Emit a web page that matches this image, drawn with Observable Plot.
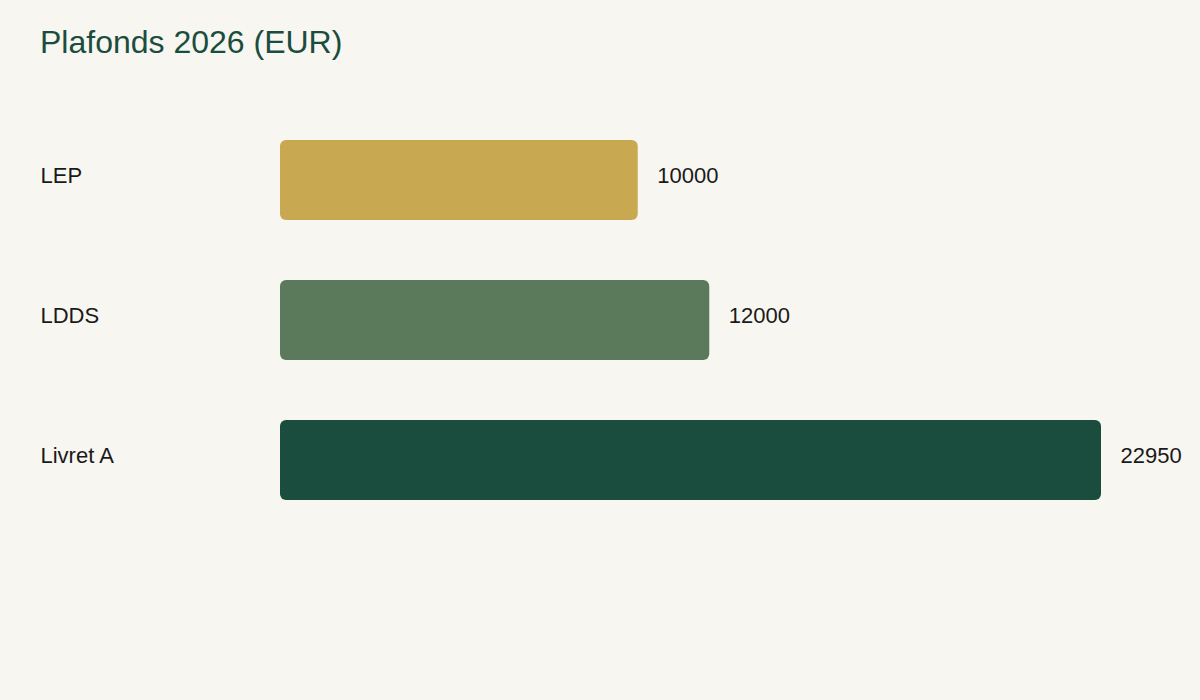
<!DOCTYPE html>
<html>
<head>
<meta charset="utf-8">
<script src="https://cdn.jsdelivr.net/npm/d3@7"></script>
<script src="https://cdn.jsdelivr.net/npm/@observablehq/plot@0.6"></script>
<style>
  html, body { margin: 0; padding: 0; background: #f7f6f1; width: 1200px; height: 700px; overflow: hidden; }
  #wrap { position: relative; width: 1200px; height: 700px; font-family: "Liberation Sans", Arial, sans-serif; }
  #title { position: absolute; left: 40px; top: 24px; font-size: 32px; line-height: 37px; color: #1b4d3e; font-weight: 400; }
  #chart { position: absolute; left: 0; top: 0; }
</style>
</head>
<body>
<div id="wrap">
  <div id="chart"></div>
  <div id="title">Plafonds 2026 (EUR)</div>
</div>
<script>
const categories = ["LEP", "LDDS", "Livret A"];
const values = [10000, 12000, 22950];
const colors = ["#c8a952", "#5b7a5b", "#1b4d3e"];

const data = categories.map((c, i) => ({ name: c, value: values[i], color: colors[i] }));

const chart = Plot.plot({
  width: 1200,
  height: 700,
  marginLeft: 40,
  marginRight: 0,
  marginTop: 0,
  marginBottom: 0,
  style: { background: "transparent", fontFamily: "'Liberation Sans', Arial, sans-serif", fontSize: "22px", color: "#1a1a1a" },
  x: { domain: [0, 22950], range: [280, 1101], axis: null },
  y: { domain: categories, range: [110, 530], paddingInner: 3 / 7, paddingOuter: 1.5 / 7, axis: null },
  marks: [
    Plot.barX(data, { x: "value", y: "name", fill: "color", rx: 6 }),
    Plot.text(data, { x: "value", y: "name", text: d => String(d.value), dx: 19, dy: -5, textAnchor: "start", fontSize: 22, fill: "#1a1a1a" }),
    Plot.text(data, { y: "name", text: "name", frameAnchor: "left", dy: -5, textAnchor: "start", fontSize: 22, fill: "#1a1a1a" })
  ]
});
document.getElementById("chart").appendChild(chart);
</script>
</body>
</html>
